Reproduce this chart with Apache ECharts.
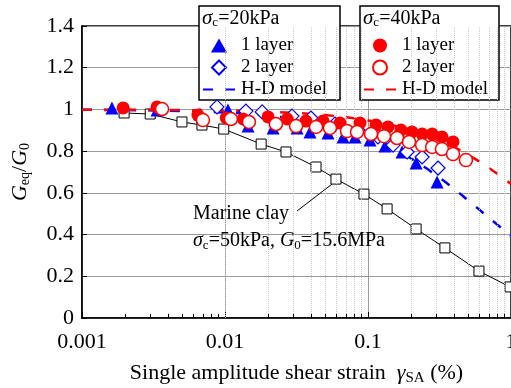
<!DOCTYPE html>
<html><head><meta charset="utf-8">
<script src="https://cdn.jsdelivr.net/npm/echarts@6/dist/echarts.min.js"></script>
<style>html,body{margin:0;padding:0;background:#fff}#c{width:511px;height:388px}</style>
</head><body><div id="c"></div>
<script>
// ---- data (strain % , G/G0) ----
const xTickLabels = ['0.001', '0.01', '0.1', '1'];
const yTickLabels = ['0', '0.2', '0.4', '0.6', '0.8', '1', '1.2', '1.4'];

const marineClay = [
  [0.00197, 0.983], [0.0030, 0.978], [0.0050, 0.940], [0.0069, 0.925], [0.0098, 0.906],
  [0.0179, 0.834], [0.0267, 0.796], [0.0433, 0.724], [0.0597, 0.666], [0.0937, 0.594],
  [0.136, 0.523], [0.217, 0.427], [0.345, 0.336], [0.597, 0.225], [0.984, 0.149]
];
const layer1_20 = [
  [0.00162, 1.007], [0.00335, 0.997], [0.00668, 0.978], [0.0105, 0.997], [0.0145, 0.920],
  [0.0217, 0.911], [0.0319, 0.911], [0.0393, 0.892], [0.0525, 0.887], [0.0669, 0.868],
  [0.0811, 0.868], [0.1033, 0.853], [0.1315, 0.825], [0.173, 0.796], [0.217, 0.743], [0.304, 0.652]
];
const layer2_20 = [
  [0.00879, 1.012], [0.0140, 0.992], [0.0182, 0.988], [0.0294, 0.968], [0.0399, 0.959],
  [0.0587, 0.930], [0.0851, 0.901], [0.1175, 0.868], [0.1497, 0.829], [0.1876, 0.796],
  [0.239, 0.772], [0.309, 0.719]
];
const hd_20 = [
  [0.001, 0.998], [0.002, 0.997], [0.005, 0.992], [0.01, 0.985], [0.02, 0.970], [0.05, 0.929],
  [0.1, 0.867], [0.15, 0.812], [0.2, 0.765], [0.3, 0.684], [0.4, 0.619], [0.5, 0.565],
  [0.7, 0.481], [1.0, 0.394]
];
const layer1_40 = [
  [0.00194, 1.007], [0.00335, 1.012], [0.00647, 0.973], [0.0102, 0.959], [0.0134, 0.954],
  [0.0200, 0.964], [0.0272, 0.954], [0.0368, 0.944], [0.0484, 0.944], [0.0637, 0.935],
  [0.0879, 0.935], [0.1138, 0.925], [0.138, 0.916], [0.170, 0.901], [0.203, 0.892],
  [0.239, 0.882], [0.281, 0.882], [0.329, 0.868], [0.393, 0.844]
];
const layer2_40 = [
  [0.00363, 1.002], [0.00701, 0.949], [0.0110, 0.954], [0.0147, 0.940], [0.0227, 0.930],
  [0.0314, 0.920], [0.0433, 0.916], [0.0542, 0.911], [0.0713, 0.896], [0.0838, 0.892],
  [0.105, 0.882], [0.1294, 0.872], [0.1596, 0.863], [0.1937, 0.844], [0.239, 0.829],
  [0.281, 0.820], [0.329, 0.810], [0.393, 0.786], [0.484, 0.757]
];
const hd_40 = [
  [0.001, 0.999], [0.002, 0.999], [0.005, 0.997], [0.01, 0.994], [0.02, 0.989], [0.05, 0.973],
  [0.1, 0.947], [0.15, 0.923], [0.2, 0.900], [0.3, 0.857], [0.4, 0.818], [0.5, 0.783],
  [0.7, 0.720], [1.0, 0.643]
];
const legendNames = { L1_20: '1 layer', L2_20: '2 layer', HD_20: 'H-D model',
                      L1_40: '1 layer', L2_40: '2 layer', HD_40: 'H-D model' };
const minorGrid = [0.002,0.003,0.004,0.005,0.006,0.007,0.008,0.009,
                   0.02,0.03,0.04,0.05,0.06,0.07,0.08,0.09,
                   0.2,0.3,0.4,0.5,0.6,0.7,0.8,0.9];
const annotationArrow = [[0.0319, 0.513], [0.056, 0.642]];

// ---- chart ----
const FONT = 'Liberation Serif';
const BLUE = '#0000ff', RED = '#ff0000';
const chart = echarts.init(document.getElementById('c'), null, { renderer: 'canvas' });

const minorLines = minorGrid.map(v => ({ xAxis: v }));
const minorTicks = minorGrid.map(v => [{ coord: [v, 0] }, { coord: [v, 0.02] }]);

const sub = { fontFamily: FONT, fontSize: 13, verticalAlign: 'bottom', padding: [9, 0, 0, 0], color: '#000' };
const ICON_TRI = 'path://M6,0L12,10.4L0,10.4Z';
const ICON_DIA = 'path://M6,0L12,6L6,12L0,6Z';
const ICON_CIR = 'path://M12,6A6,6,0,1,1,0,6A6,6,0,1,1,12,6Z';

function legendCfg(names, left, padRight) {
  return {
    data: [
      { name: names[0], icon: names[0] === 'L1_20' ? ICON_TRI : ICON_CIR },
      { name: names[1], icon: names[1] === 'L2_20' ? ICON_DIA : ICON_CIR },
      { name: names[2], itemStyle: { opacity: 0 } }
    ],
    orient: 'vertical', left: left, top: 6,
    padding: [30, padRight, 1, 3], itemGap: 3, itemWidth: 32, itemHeight: 14,
    symbolKeepAspect: true,
    backgroundColor: '#fff', borderColor: '#000', borderWidth: 1.5, borderRadius: 0,
    selectedMode: false, formatter: n => legendNames[n],
    textStyle: { fontFamily: FONT, fontSize: 19, color: '#000', padding: [0, 0, 0, 1] }
  };
}

const headerRich = {
  t: { fontFamily: FONT, fontSize: 20, color: '#000' },
  i: { fontFamily: FONT, fontSize: 21, fontStyle: 'italic', color: '#000' },
  s: Object.assign({}, sub, { fontSize: 13, padding: [9, 0, 0, 0] })
};

chart.setOption({
  animation: false,
  backgroundColor: '#fff',
  grid: { left: 82, right: 0, top: 26, bottom: 70, outerBoundsMode: 'none', containLabel: false,
          show: true, borderColor: '#000', borderWidth: 1.5 },
  xAxis: {
    type: 'log', logBase: 10, min: 0.001, max: 1,
    axisLine: { lineStyle: { color: '#000', width: 1.5 } },
    axisTick: { inside: true, length: 6, lineStyle: { color: '#000' } },
    splitLine: { show: true, lineStyle: { color: '#9a9a9a', width: 1 } },
    axisLabel: {
      fontFamily: FONT, fontSize: 22, color: '#000', margin: 13,
      formatter: v => { const i = Math.round(Math.log10(v)) + 3; return xTickLabels[i] ?? ''; }
    },
    name: '{t|Single amplitude shear strain  }{i|γ}{s|SA}{t| (%)}',
    nameLocation: 'middle', nameGap: 43,
    nameTextStyle: {
      rich: {
        t: { fontFamily: FONT, fontSize: 22, color: '#000' },
        i: { fontFamily: FONT, fontSize: 22, fontStyle: 'italic', color: '#000' },
        s: Object.assign({}, sub, { fontSize: 15, padding: [10, 0, 0, 0] })
      }
    }
  },
  yAxis: {
    type: 'value', min: 0, max: 1.4, interval: 0.2,
    axisLine: { lineStyle: { color: '#000', width: 1.5 } },
    axisTick: { show: true, inside: true, length: 5, lineStyle: { color: '#000' } },
    splitLine: { show: true, lineStyle: { color: '#9a9a9a', width: 1 } },
    axisLabel: {
      fontFamily: FONT, fontSize: 22, color: '#000', margin: 8,
      formatter: v => yTickLabels[Math.round(v / 0.2)] ?? ''
    },
    name: '{i|G}{s|eq}{t|/}{i|G}{s|0}',
    nameLocation: 'middle', nameGap: 50, nameRotate: 90,
    nameTextStyle: {
      padding: [0, 0, 0, 0],
      rich: {
        t: { fontFamily: FONT, fontSize: 22, color: '#000' },
        i: { fontFamily: FONT, fontSize: 22, fontStyle: 'italic', color: '#000' },
        s: Object.assign({}, sub, { fontSize: 14, padding: [10, 0, 0, 0] })
      }
    }
  },
  legend: [
    legendCfg(['L1_20', 'L2_20', 'HD_20'], 199, 13),
    legendCfg(['L1_40', 'L2_40', 'HD_40'], 360, 11)
  ],
  graphic: [
    { type: 'text', left: 202, top: 8, z: 200, style: { text: '{i|σ}{s|c}{t|=20kPa}', rich: headerRich } },
    { type: 'text', left: 363, top: 8, z: 200, style: { text: '{i|σ}{s|c}{t|=40kPa}', rich: headerRich } },
    { type: 'text', left: 193, top: 204, z: 200,
      style: { text: 'Marine clay', fontFamily: FONT, fontSize: 20, fill: '#000' } },
    { type: 'text', left: 193, top: 231, z: 200,
      style: { text: '{i|σ}{s|c}{t|=50kPa, }{i|G}{s|0}{t|=15.6MPa}', rich: {
        t: { fontFamily: FONT, fontSize: 20, color: '#000' },
        i: { fontFamily: FONT, fontSize: 20, fontStyle: 'italic', color: '#000' },
        s: Object.assign({}, sub, { fontSize: 13, padding: [9, 0, 0, 0] }) } } }
  ],
  series: [
    {
      name: 'gridMinor', type: 'line', data: [], silent: true, z: 0,
      markLine: {
        silent: true, symbol: 'none', label: { show: false },
        lineStyle: { color: '#c8c8c8', type: 'dotted', width: 1 },
        data: minorLines.concat(minorTicks.map(p => [
          Object.assign({}, p[0], { lineStyle: { color: '#000', type: 'solid', width: 1 } }), p[1]]))
      }
    },
    {
      name: 'MarineClay', type: 'line', data: marineClay, z: 3,
      symbol: 'rect', symbolSize: 10,
      lineStyle: { color: '#000', width: 1 },
      itemStyle: { color: '#fff', borderColor: '#000', borderWidth: 1 },
      markLine: {
        silent: true, symbol: ['none', 'arrow'], symbolSize: [0, 8], label: { show: false },
        lineStyle: { color: '#000', type: 'solid', width: 1 },
        data: [[{ coord: annotationArrow[0] }, { coord: annotationArrow[1] }]]
      }
    },
    {
      name: 'HD_20', type: 'line', data: hd_20, smooth: true, symbol: 'none', z: 4,
      lineStyle: { color: BLUE, width: 2.5, type: [10, 12] }, itemStyle: { color: BLUE }
    },
    {
      name: 'HD_40', type: 'line', data: hd_40, smooth: true, symbol: 'none', z: 4,
      lineStyle: { color: RED, width: 2.5, type: [10, 12] }, itemStyle: { color: RED }
    },
    {
      name: 'L1_20', type: 'scatter', data: layer1_20, symbol: 'triangle', symbolSize: 13, z: 5,
      itemStyle: { color: BLUE, opacity: 1 }
    },
    {
      name: 'L2_20', type: 'scatter', data: layer2_20, symbol: 'diamond', symbolSize: 14, z: 6,
      itemStyle: { color: '#fff', borderColor: BLUE, borderWidth: 1.2, opacity: 1 }
    },
    {
      name: 'L1_40', type: 'scatter', data: layer1_40, symbol: 'circle', symbolSize: 13, z: 7,
      itemStyle: { color: RED, opacity: 1 }
    },
    {
      name: 'L2_40', type: 'scatter', data: layer2_40, symbol: 'circle', symbolSize: 13, z: 8,
      itemStyle: { color: '#fff', borderColor: RED, borderWidth: 1.5, opacity: 1 }
    }
  ]
});
</script></body></html>
